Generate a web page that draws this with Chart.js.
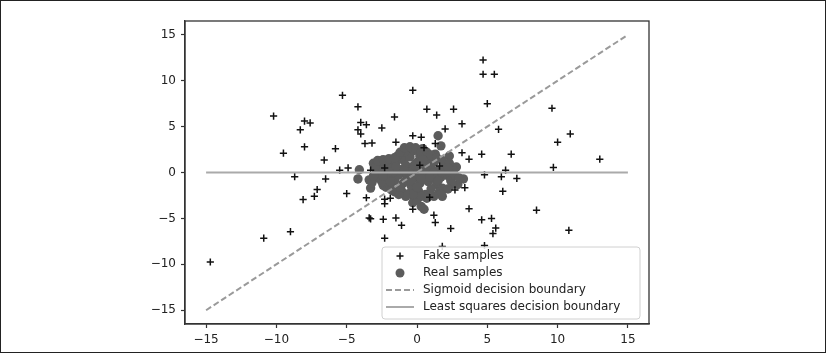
<!DOCTYPE html>
<html>
<head>
<meta charset="utf-8">
<script src="https://cdn.jsdelivr.net/npm/chart.js@4/dist/chart.umd.min.js"></script>
<style>
  body { margin: 0; background: #fff; }
  canvas { display: block; }
</style>
</head>
<body>
<canvas id="chart" width="826" height="353"></canvas>
<script>
// values
var fakeX = [4.7, 4.7, 5.5, -0.3, -5.3, -4.2, 5.0, 0.7, 2.6, 9.6, -10.2, -1.6, 1.4, -8.0, -7.6, -4.0, -3.6, 3.2,
  -8.3, -4.2, -4.0, -2.5, 2.0, 5.8, -0.3, 0.3, 10.9, -3.7, -3.2, -1.5, 1.3, 10.0, -8.0, -5.8, 0.5, -9.5, 3.2,
  4.6, 6.7, -6.6, 3.7, 13.0, -5.5, -4.9, -3.3, 9.7, 6.3, -8.7, 4.8, 6.0, 7.1, -6.5, -7.1, -5.0, 2.7, 3.4, 6.1,
  -8.1, -7.3, -3.6, -2.3, -1.9, 0.9, -2.3, -0.3, 3.7, 8.5, -3.4, -3.3, -2.4, -1.5, 1.2, 4.6, 5.3, 5.6, 5.4,
  -1.1, 1.3, 2.4, -9.0, 10.8, -10.9, -2.3, 1.8, 4.8, -14.7, 1.6, -2.3, 0.2];
var fakeY = [12.25, 10.7, 10.7, 8.95, 8.4, 7.15, 7.5, 6.9, 6.9, 7.0, 6.15, 6.05, 6.25, 5.6, 5.4, 5.45, 5.2, 5.3,
  4.65, 4.65, 4.2, 4.85, 4.75, 4.7, 4.0, 3.85, 4.2, 3.15, 3.2, 3.3, 3.15, 3.3, 2.8, 2.6, 2.7, 2.1, 2.15,
  2.0, 2.0, 1.35, 1.45, 1.45, 0.25, 0.5, 0.25, 0.55, 0.25, -0.45, -0.25, -0.45, -0.65, -0.7, -1.85, -2.3, -1.9, -1.65, -2.05,
  -2.95, -2.6, -2.75, -2.9, -2.8, -2.7, -3.4, -4.0, -3.95, -4.1, -4.95, -5.05, -5.1, -4.95, -4.65, -5.15, -5.0, -6.05, -6.65,
  -5.75, -5.45, -6.1, -6.45, -6.3, -7.15, -7.15, -8.05, -7.95, -9.75, 0.7, 0.5, 0.8];

var realX = [1.5, 1.7, 2.3, 2.8, 3.3, 1.8, 1.8, 0.3, 0.5, -0.2, -1.6, -0.7, -0.6, -1.9, -2.7, -4.1, -4.2, -3.4, -3.3, -2.4, -2.2,
  -2.2, -1.8, -1.5, -1.2, -1.0, -0.8, -0.5, -0.3, 0.0, 0.2, 0.5, 0.8, 1.0, 1.2, 1.5, 1.9, 2.1, -2.0, -1.6, -1.3,
  -1.0, -0.7, -0.4, -0.1, 0.2, 0.5, 0.8, 1.1, 1.4, 1.7, 2.4, -1.1, -0.6, 0.1, 0.6, 1.0, -0.9, -0.2, 0.4, -2.6,
  -2.9, 0.9, -0.5, 0.3, -1.4, 2.6, 1.3, -0.3, 0.0, -1.9, 2.9, -0.8, 0.6, 1.6, -2.4, -1.7, 0.0, 0.3, -0.2, 1.2,
  -2.5, -3.0,
  -3.1, -3.0, -2.8, -2.4, -2.0, -1.6, -1.2, -0.9, -0.5, -0.1, 0.3, 0.7, 1.0, 1.4, 1.8, 2.3, 2.7, 3.0, 2.5, 2.2,
  1.7, 1.2, 0.7, 0.3, -0.3, -0.8, -1.3, -1.8, -2.5, -2.8, -3.2, -3.1, -1.5, -0.9, 0.6, 1.8, 2.2, -2.0, -0.4, 0.9,
  1.5, -1.2, 0.0, 0.4, -1.9, -2.4];
var realY = [4.0, 2.9, 1.8, 0.6, -0.7, -1.7, -2.6, -3.7, -4.0, -2.8, -2.1, 2.6, 2.1, 1.3, 0.7, 0.3, -0.7, -0.8, -1.7, -1.4, -1.6,
  0.9, 0.5, 1.1, 0.3, 1.4, 0.8, 1.7, 0.4, 1.1, 1.8, 0.9, 1.5, 0.4, 1.1, 0.2, 0.8, -0.3, -0.5, -0.9, -0.3,
  -1.2, -0.4, -1.5, -0.6, -1.2, -0.3, -1.0, -0.6, -1.3, -0.5, -0.9, -2.0, -2.3, -2.0, -2.4, -1.8, 2.2, 2.4, 2.6, -0.2,
  0.3, 0.0, 0.0, 0.3, 1.8, 0.2, 2.0, -3.3, -3.0, -1.5, -1.3, -0.9, 1.3, -2.1, 0.3, 0.0, -0.2, -0.7, 0.8, -0.1,
  1.3, -0.5,
  1.0, 0.6, 1.3, 1.4, 1.5, 1.6, 2.2, 2.7, 2.8, 2.7, 2.2, 2.2, 1.9, 1.6, 1.3, 1.0, -0.3, -0.6, -1.3, -1.8,
  -2.4, -2.6, -2.8, -2.6, -2.4, -2.6, -2.4, -1.9, -1.0, -0.6, -1.1, -0.4, 0.6, 0.2, 0.5, 0.0, 0.5, 0.1, -0.9, -0.5,
  -0.9, -1.6, -1.6, 1.4, -1.0, -0.4];

var sigmoidX = [-15, 15];
var sigmoidY = [-15, 15];
var lsqX = [-15, 15];
var lsqY = [0, 0];

var tickValues = [-15, -10, -5, 0, 5, 10, 15];
var legendLabels = ['Fake samples', 'Real samples', 'Sigmoid decision boundary', 'Least squares decision boundary'];

function pts(xs, ys) {
  return xs.map(function(x, i) { return { x: x, y: ys[i] }; });
}

function fmt(v) {
  return v < 0 ? '\u2212' + Math.abs(v) : '' + v;
}

var frame = {
  id: 'frame',
  afterDraw: function(chart) {
    var ctx = chart.ctx;
    var a = chart.chartArea;
    ctx.save();
    ctx.strokeStyle = '#333';
    ctx.lineWidth = 1.3;
    ctx.strokeRect(a.left, a.top, a.right - a.left, a.bottom - a.top);

    // legend box, lower right
    var bx = 382, by = 247, bw = 258, bh = 72, r = 3;
    ctx.beginPath();
    ctx.moveTo(bx + r, by);
    ctx.arcTo(bx + bw, by, bx + bw, by + bh, r);
    ctx.arcTo(bx + bw, by + bh, bx, by + bh, r);
    ctx.arcTo(bx, by + bh, bx, by, r);
    ctx.arcTo(bx, by, bx + bw, by, r);
    ctx.closePath();
    ctx.fillStyle = 'rgba(255,255,255,0.85)';
    ctx.fill();
    ctx.strokeStyle = '#d0d0d0';
    ctx.lineWidth = 1;
    ctx.stroke();

    var rows = [256, 273, 290, 307];
    var ds = chart.data.datasets;
    ctx.font = '12px "DejaVu Sans"';
    ctx.textBaseline = 'middle';
    ctx.fillStyle = '#222';
    legendLabels.forEach(function(t, i) {
      ctx.fillText(t, 423, rows[i]);
    });

    // markers
    ctx.strokeStyle = ds[0].borderColor;
    ctx.lineWidth = ds[0].borderWidth;
    ctx.beginPath();
    ctx.moveTo(400 - 3.5, rows[0]); ctx.lineTo(400 + 3.5, rows[0]);
    ctx.moveTo(400, rows[0] - 3.5); ctx.lineTo(400, rows[0] + 3.5);
    ctx.stroke();

    ctx.fillStyle = ds[1].backgroundColor;
    ctx.beginPath();
    ctx.arc(400, rows[1], 4.5, 0, Math.PI * 2);
    ctx.fill();

    [2, 3].forEach(function(k) {
      ctx.strokeStyle = ds[k].borderColor;
      ctx.lineWidth = ds[k].borderWidth;
      ctx.setLineDash(ds[k].borderDash || []);
      ctx.beginPath();
      ctx.moveTo(386, rows[k]);
      ctx.lineTo(414, rows[k]);
      ctx.stroke();
    });
    ctx.setLineDash([]);

    // outer picture border
    ctx.strokeStyle = '#222';
    ctx.lineWidth = 1;
    ctx.strokeRect(0.5, 0.5, 825, 352);
    ctx.restore();
  }
};

function axis(extra) {
  var s = {
    type: 'linear',
    min: -16.5,
    max: 16.5,
    afterBuildTicks: function(scale) {
      scale.ticks = tickValues.map(function(v) { return { value: v }; });
    },
    ticks: {
      color: '#222',
      font: { family: 'DejaVu Sans', size: 12 },
      padding: 5,
      callback: function(v) { return fmt(v); }
    },
    grid: { drawOnChartArea: false, color: '#333', tickLength: 4, tickWidth: 1.2 },
    border: { color: '#333', width: 1.3 }
  };
  return Object.assign(s, extra);
}

new Chart(document.getElementById('chart'), {
  type: 'scatter',
  data: {
    datasets: [
      {
        label: legendLabels[0],
        data: pts(fakeX, fakeY),
        pointStyle: 'cross',
        pointRadius: 3.6,
        borderColor: '#111',
        borderWidth: 1.5,
        order: 1
      },
      {
        label: legendLabels[1],
        data: pts(realX, realY),
        pointStyle: 'circle',
        pointRadius: 4.7,
        backgroundColor: '#5c5c5c',
        borderWidth: 0,
        order: 2
      },
      {
        label: legendLabels[2],
        data: pts(sigmoidX, sigmoidY),
        showLine: true,
        pointRadius: 0,
        borderColor: '#9a9a9a',
        borderWidth: 2,
        borderDash: [6, 3],
        order: 0
      },
      {
        label: legendLabels[3],
        data: pts(lsqX, lsqY),
        showLine: true,
        pointRadius: 0,
        borderColor: '#aaaaaa',
        borderWidth: 2,
        order: 0
      }
    ]
  },
  options: {
    responsive: false,
    animation: false,
    layout: { padding: { left: 145, right: 177, top: 21, bottom: 0 } },
    plugins: { legend: { display: false }, tooltip: { enabled: false } },
    scales: {
      x: axis({ afterFit: function(s) { s.height = 29; } }),
      y: axis({ afterFit: function(s) { s.width = 40; } })
    }
  },
  plugins: [frame]
});
</script>
</body>
</html>
